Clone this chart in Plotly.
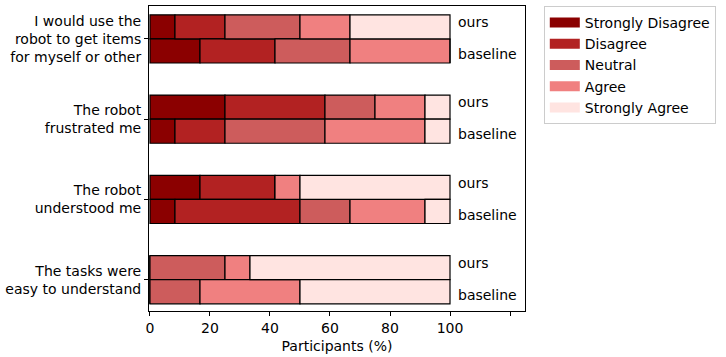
import plotly.graph_objects as go

questions = ["I would use the<br>robot to get items<br>for myself or other",
             "The robot<br>frustrated me",
             "The robot<br>understood me",
             "The tasks were<br>easy to understand"]
levels = ["Strongly Disagree", "Disagree", "Neutral", "Agree", "Strongly Agree"]
colors = ["#8B0000", "#B22222", "#CD5C5C", "#F08080", "#FFE4E1"]

# percentages per level (SD, D, N, A, SA), per question, top to bottom
ours = [
    [8.33, 16.67, 25.00, 16.67, 33.33],
    [25.00, 33.33, 16.67, 16.67, 8.33],
    [16.67, 25.00, 0.00, 8.33, 50.00],
    [0.00, 0.00, 25.00, 8.33, 66.67],
]
baseline = [
    [16.67, 25.00, 25.00, 33.33, 0.00],
    [8.33, 16.67, 33.33, 33.33, 8.33],
    [8.33, 41.67, 16.67, 25.00, 8.33],
    [0.00, 0.00, 16.67, 33.33, 50.00],
]
x_ticks = [0, 20, 40, 60, 80, 100, 120]
x_tick_labels = ["0", "20", "40", "60", "80", "100", ""]

n = len(questions)
centers = [n - 1 - i for i in range(n)]
off = 0.15
bw = 0.3

fig = go.Figure()
for k, lev in enumerate(levels):
    ys, xs, bases = [], [], []
    for i in range(n):
        ys.append(centers[i] + off)
        xs.append(ours[i][k])
        bases.append(sum(ours[i][:k]))
        ys.append(centers[i] - off)
        xs.append(baseline[i][k])
        bases.append(sum(baseline[i][:k]))
    fig.add_trace(go.Bar(
        y=ys, x=xs, base=bases, orientation="h", name=lev, width=bw,
        marker=dict(color=colors[k], line=dict(color="black", width=1.2)),
        showlegend=False,
    ))
# legend entries as wide colour patches
for k, lev in enumerate(levels):
    fig.add_trace(go.Scatter(x=[None], y=[None], mode="lines", name=lev,
                             line=dict(color=colors[k], width=10)))

for i in range(n):
    fig.add_annotation(x=102, y=centers[i] + off + 0.06, text="ours", showarrow=False,
                       xanchor="left", yanchor="middle", font=dict(size=14, color="black"))
    fig.add_annotation(x=102, y=centers[i] - off - 0.04, text="baseline", showarrow=False,
                       xanchor="left", yanchor="middle", font=dict(size=14, color="black"))

fig.update_layout(
    width=726, height=357,
    margin=dict(l=147, r=201, t=5, b=44),
    plot_bgcolor="white", paper_bgcolor="white",
    font=dict(family="DejaVu Sans", size=14, color="black"),
    barmode="overlay",
    showlegend=True,
    legend=dict(x=1.05, y=1.0, xanchor="left", yanchor="top",
                bordercolor="#cccccc", borderwidth=1, font=dict(size=14),
                tracegroupgap=0, itemwidth=30),
)
fig.update_xaxes(range=[-0.33, 125], tickvals=x_ticks, ticktext=x_tick_labels,
                 ticks="outside", ticklen=4, tickcolor="black",
                 showline=True, linecolor="black", mirror=True, linewidth=1,
                 showgrid=False, zeroline=False,
                 title=dict(text="Participants (%)", font=dict(size=14), standoff=6))
fig.update_yaxes(range=[-0.39, 3.41], tickvals=centers, ticktext=questions,
                 ticks="outside", ticklen=4, tickcolor="black",
                 showline=True, linecolor="black", mirror=True, linewidth=1,
                 showgrid=False, zeroline=False)

fig.write_html("out.html", config={"displayModeBar": False},
               post_script="document.body.style.margin='0';document.body.style.overflow='hidden';")
